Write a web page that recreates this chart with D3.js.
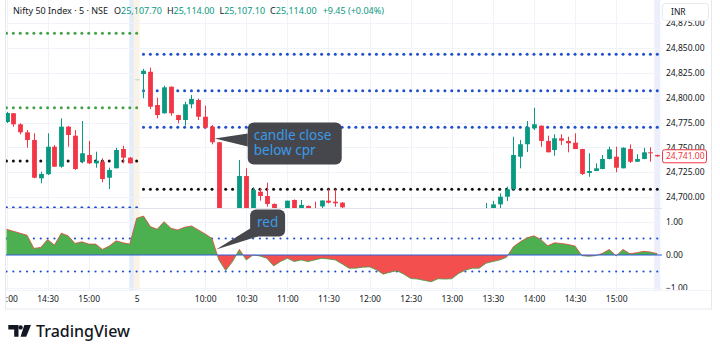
<!DOCTYPE html>
<html>
<head>
<meta charset="utf-8">
<script src="https://cdn.jsdelivr.net/npm/d3@7"></script>
<style>
  body { margin: 0; background: #fff; }
  svg { display: block; font-family: "Noto Sans", sans-serif; }
</style>
</head>
<body>
<svg id="chart" width="720" height="353"></svg>
<script>
// ---- data (5 min bars, 14:00 prev day .. 15:30, pre-open bar, 9:15 .. 15:30) ----
const opens = [
  24775.5, 24784.3, 24773.2, 24765.1, 24757.4, 24718.8, 24722.9, 24750.6, 24730.5, 24770.8,
  24761.7, 24735.5, 24742.3, 24733.9, 24735.5, 24719.4, 24728.9, 24748.3, 24739.6, 24818.5,
  24823.8, 24826.1, 24792.6, 24784.3, 24811.0, 24782.5, 24777.5, 24793.3, 24797.6, 24780.8,
  24770.8, 24755.1, 24668.0, 24662.0, 24676.0, 24721.1, 24682.0, 24705.3, 24701.0, 24693.0,
  24684.0, 24679.0, 24697.0, 24686.0, 24691.0, 24688.0, 24690.5, 24696.3, 24695.3, 24694.3,
  24688.0, 24681.0, 24676.0, 24682.0, 24677.0, 24670.0, 24664.0, 24669.0, 24666.0, 24658.0,
  24653.0, 24657.0, 24651.0, 24654.0, 24660.0, 24658.0, 24665.0, 24671.0, 24675.0, 24678.0,
  24676.0, 24688.9, 24692.6, 24700.3, 24707.8, 24740.6, 24753.1, 24769.2, 24771.8, 24756.4,
  24747.3, 24759.1, 24756.4, 24754.7, 24748.3, 24724.2, 24726.2, 24728.2, 24738.3, 24740.6,
  24728.9, 24748.3, 24735.5, 24738.3, 24745.0, 24742.3
];
const highs = [
  24785.6, 24784.6, 24774.2, 24767.4, 24764.1, 24725.5, 24764.1, 24752.3, 24779.2, 24771.5,
  24767.4, 24776.5, 24756.4, 24745.6, 24739.0, 24729.5, 24749.6, 24751.6, 24740.3, 24818.6,
  24829.0, 24830.2, 24800.0, 24812.0, 24811.2, 24782.8, 24795.9, 24802.7, 24799.0, 24791.9,
  24772.5, 24755.5, 24682.0, 24684.0, 24737.2, 24728.9, 24709.8, 24708.8, 24714.4, 24693.5,
  24687.0, 24696.3, 24697.5, 24697.0, 24691.5, 24695.3, 24696.5, 24707.8, 24707.8, 24694.8,
  24688.5, 24686.0, 24684.0, 24686.0, 24680.0, 24674.0, 24672.0, 24673.0, 24668.0, 24663.0,
  24660.0, 24661.0, 24656.0, 24662.0, 24664.0, 24667.0, 24673.0, 24677.0, 24680.0, 24682.0,
  24694.0, 24696.0, 24703.7, 24710.4, 24760.7, 24757.4, 24776.5, 24789.9, 24772.0, 24761.7,
  24763.1, 24763.1, 24760.7, 24764.1, 24748.5, 24744.0, 24733.9, 24742.3, 24750.6, 24750.6,
  24750.0, 24753.0, 24743.0, 24749.6, 24750.0, 24742.5
];
const lows = [
  24774.5, 24770.8, 24763.1, 24749.6, 24718.8, 24713.8, 24722.1, 24730.2, 24729.5, 24750.6,
  24727.2, 24733.9, 24733.2, 24729.5, 24714.8, 24708.0, 24728.9, 24733.9, 24733.7, 24817.4,
  24799.4, 24788.6, 24779.2, 24784.0, 24781.8, 24774.2, 24771.8, 24789.3, 24777.5, 24768.5,
  24753.0, 24660.0, 24655.0, 24658.0, 24670.0, 24675.0, 24678.0, 24696.3, 24690.2, 24680.0,
  24674.0, 24676.0, 24682.0, 24683.0, 24683.0, 24683.0, 24686.0, 24693.5, 24690.2, 24686.0,
  24678.0, 24674.0, 24672.0, 24675.0, 24668.0, 24661.0, 24662.0, 24664.0, 24655.0, 24650.0,
  24649.0, 24648.0, 24645.0, 24652.0, 24655.0, 24656.0, 24663.0, 24668.0, 24671.0, 24673.0,
  24672.0, 24684.0, 24688.9, 24696.0, 24707.5, 24728.9, 24745.3, 24767.4, 24750.6, 24745.0,
  24741.6, 24752.3, 24745.0, 24748.3, 24722.1, 24720.4, 24726.0, 24728.0, 24738.0, 24724.9,
  24728.9, 24734.2, 24735.3, 24738.0, 24735.5, 24740.5
];
const closes = [
  24784.6, 24773.2, 24765.1, 24757.4, 24719.4, 24723.2, 24750.6, 24730.5, 24770.8, 24762.4,
  24728.2, 24744.0, 24733.9, 24736.5, 24718.1, 24727.2, 24747.3, 24739.6, 24733.9, 24817.5,
  24827.1, 24790.9, 24782.5, 24810.4, 24784.3, 24777.5, 24793.3, 24798.7, 24780.8, 24769.8,
  24755.1, 24668.0, 24662.0, 24676.0, 24721.1, 24682.0, 24707.0, 24701.0, 24693.0, 24684.0,
  24679.0, 24696.3, 24686.0, 24692.0, 24686.0, 24686.5, 24696.5, 24694.3, 24693.7, 24689.6,
  24681.0, 24676.0, 24682.0, 24677.0, 24670.0, 24664.0, 24669.0, 24666.0, 24658.0, 24653.0,
  24657.0, 24651.0, 24654.0, 24660.0, 24658.0, 24665.0, 24671.0, 24675.0, 24678.0, 24676.0,
  24684.0, 24692.6, 24700.3, 24707.8, 24742.3, 24753.1, 24770.2, 24773.2, 24756.4, 24745.0,
  24759.1, 24756.7, 24754.1, 24748.3, 24723.2, 24726.2, 24728.9, 24738.3, 24748.0, 24729.5,
  24749.6, 24735.5, 24738.3, 24745.0, 24744.0, 24741.0
];
const preMarketBars = [19];

// oscillator in the lower pane
const oscValues = [
  0.78, 0.72, 0.66, 0.60, 0.20, 0.23, 0.47, 0.30, 0.66, 0.58,
  0.35, 0.40, 0.33, 0.33, 0.17, 0.27, 0.43, 0.37, 0.33, 1.11,
  1.18, 0.86, 0.78, 1.01, 0.81, 0.76, 0.84, 0.88, 0.76, 0.64,
  0.50, -0.15, -0.47, -0.20, 0.17, -0.15, 0.00, -0.03, -0.10, -0.33,
  -0.20, -0.10, -0.20, -0.15, -0.20, -0.15, -0.10, -0.12, -0.15, -0.27,
  -0.40, -0.40, -0.37, -0.36, -0.45, -0.58, -0.52, -0.48, -0.58, -0.71,
  -0.73, -0.77, -0.81, -0.72, -0.73, -0.72, -0.56, -0.46, -0.40, -0.40,
  -0.25, -0.20, -0.15, -0.07, 0.25, 0.40, 0.52, 0.58, 0.47, 0.28,
  0.37, 0.35, 0.32, 0.27, -0.02, -0.04, -0.02, 0.05, 0.17, -0.03,
  0.17, 0.04, 0.07, 0.11, 0.09, 0.04
];
const oscBands = [0.5, -0.5];

// pivot / cpr levels per session
const prevDayBars = [0, 19];
const todayBars = [20, 95];
const prevDayGreen = [24864.8, 24789.9];
const prevDayBlack = [24736.3];
const prevDayBlue = [24689.2];
const todayBlue = [24843.7, 24807.0, 24770.2];
const todayBlack = [24707.7];

// axes
const priceTicks = [24700, 24725, 24750, 24775, 24800, 24825, 24850, 24875];
const oscTicks = [1, 0, -1];
const timeTickBars = [0, 6, 12, 19, 29, 35, 41, 47, 53, 59, 65, 71, 77, 83, 89];
const timeTickLabels = ["14:00", "14:30", "15:00", "5", "10:00", "10:30", "11:00", "11:30",
  "12:00", "12:30", "13:00", "13:30", "14:00", "14:30", "15:00"];

// ---- layout ----
const paneLeft = 6, paneRight = 662;
const priceTop = 0, priceBottom = 208;
const oscTop = 209, oscBottom = 290;
const green = "#089981", red = "#f23645";
const textCol = "#131722";

const svg = d3.select("#chart");
const defs = svg.append("defs");

const x = d3.scaleLinear().domain([0, 95]).range([6.5, 657.25]);
const step = x(1) - x(0);
const y = d3.scaleLinear().domain([24700, 24850]).range([197, 48]);
const yOsc = d3.scaleLinear().domain([-1, 1]).range([288, 222]);

defs.append("clipPath").attr("id", "clipPrice").append("rect")
  .attr("x", paneLeft).attr("y", priceTop).attr("width", paneRight - paneLeft).attr("height", priceBottom - priceTop);
defs.append("clipPath").attr("id", "clipOsc").append("rect")
  .attr("x", paneLeft).attr("y", oscTop).attr("width", paneRight - paneLeft).attr("height", oscBottom - oscTop);
defs.append("clipPath").attr("id", "clipPos").append("rect")
  .attr("x", paneLeft).attr("y", oscTop).attr("width", paneRight - paneLeft).attr("height", yOsc(0) - oscTop);
defs.append("clipPath").attr("id", "clipNeg").append("rect")
  .attr("x", paneLeft).attr("y", yOsc(0)).attr("width", paneRight - paneLeft).attr("height", oscBottom - yOsc(0));
defs.append("clipPath").attr("id", "clipTime").append("rect")
  .attr("x", paneLeft).attr("y", oscBottom).attr("width", paneRight - paneLeft).attr("height", 20);
defs.append("clipPath").attr("id", "clipOscAxis").append("rect")
  .attr("x", paneRight).attr("y", oscTop).attr("width", 58).attr("height", oscBottom - oscTop);

// session highlight bands
const bands = [
  {bar: 18.3, w: 5, color: "#e3ecfb"},
  {bar: 19, w: 6, color: "#fdf3e3"},
  {bar: 95, w: 6, color: "#eceefb"}
];
svg.append("g").selectAll("rect").data(bands).join("rect")
  .attr("x", d => x(d.bar) - d.w / 2).attr("y", 0)
  .attr("width", d => d.w).attr("height", oscBottom)
  .attr("fill", d => d.color);

// grid
const grid = svg.append("g").attr("stroke", "#f0f3fa").attr("stroke-width", 1);
grid.append("g").attr("clip-path", "url(#clipPrice)").selectAll("line").data(priceTicks).join("line")
  .attr("x1", paneLeft).attr("x2", paneRight)
  .attr("y1", d => Math.round(y(d)) + 0.5).attr("y2", d => Math.round(y(d)) + 0.5);
grid.append("g").selectAll("line").data(oscTicks.filter(d => d !== 0)).join("line")
  .attr("x1", paneLeft).attr("x2", paneRight)
  .attr("y1", d => Math.round(yOsc(d)) + 0.5).attr("y2", d => Math.round(yOsc(d)) + 0.5);
grid.append("g").selectAll("line").data(timeTickBars).join("line")
  .attr("x1", d => Math.round(x(d)) + 0.5).attr("x2", d => Math.round(x(d)) + 0.5)
  .attr("y1", 0).attr("y2", oscBottom);

// pane separators and frame
svg.append("line").attr("x1", paneLeft).attr("x2", 711).attr("y1", priceBottom + 0.5).attr("y2", priceBottom + 0.5)
  .attr("stroke", "#e0e3eb");
svg.append("line").attr("x1", paneLeft).attr("x2", 711).attr("y1", oscBottom + 0.5).attr("y2", oscBottom + 0.5)
  .attr("stroke", "#f0f3fa");
svg.append("rect").attr("x", 5.5).attr("y", -2).attr("width", 706).attr("height", 311)
  .attr("fill", "none").attr("stroke", "#e6e8ee");

// level dots (plotted once per bar)
function levelDots(g, levels, range, color, r) {
  const idx = d3.range(range[0], range[1] + 1);
  levels.forEach(lv => {
    g.append("g").selectAll("circle").data(idx).join("circle")
      .attr("cx", d => x(d)).attr("cy", y(lv)).attr("r", r).attr("fill", color);
  });
}
const priceG = svg.append("g").attr("clip-path", "url(#clipPrice)");
levelDots(priceG, prevDayGreen, prevDayBars, "#43a047", 1.5);
levelDots(priceG, prevDayBlack, prevDayBars, "#111", 1.5);
levelDots(priceG, prevDayBlue, prevDayBars, "#1f4fcf", 1.5);
levelDots(priceG, todayBlue, todayBars, "#1f4fcf", 1.5);
levelDots(priceG, todayBlack, todayBars, "#111", 1.5);

// candles
const bars = d3.range(opens.length);
const candleCol = i => preMarketBars.includes(i) ? "#bcd9cf" : (closes[i] >= opens[i] ? green : red);
const bodyW = step * 0.7;
priceG.append("g").selectAll("line").data(bars).join("line")
  .attr("x1", i => Math.round(x(i)) + 0.5).attr("x2", i => Math.round(x(i)) + 0.5)
  .attr("y1", i => y(highs[i])).attr("y2", i => y(lows[i]))
  .attr("stroke", candleCol).attr("stroke-width", 1);
priceG.append("g").selectAll("rect").data(bars).join("rect")
  .attr("x", i => Math.round(x(i)) + 0.5 - bodyW / 2)
  .attr("y", i => y(Math.max(opens[i], closes[i])))
  .attr("width", bodyW)
  .attr("height", i => Math.max(1, Math.abs(y(opens[i]) - y(closes[i]))))
  .attr("fill", candleCol);

// oscillator pane
const oscG = svg.append("g").attr("clip-path", "url(#clipOsc)");
oscBands.forEach(b => {
  oscG.append("g").selectAll("circle").data(bars).join("circle")
    .attr("cx", d => x(d)).attr("cy", yOsc(b)).attr("r", 1.1).attr("fill", "#1f4fcf");
});
const area = d3.area().x((d, i) => x(i)).y0(yOsc(0)).y1(d => yOsc(d));
const line = d3.line().x((d, i) => x(i)).y(d => yOsc(d));
const posG = oscG.append("g").attr("clip-path", "url(#clipPos)");
posG.append("path").datum(oscValues).attr("d", area).attr("fill", "#4caf50");
posG.append("path").datum(oscValues).attr("d", line).attr("fill", "none").attr("stroke", "#e0463c").attr("stroke-width", 0.8);
const negG = oscG.append("g").attr("clip-path", "url(#clipNeg)");
negG.append("path").datum(oscValues).attr("d", area).attr("fill", "#f44f4f");
negG.append("path").datum(oscValues).attr("d", line).attr("fill", "none").attr("stroke", "#43a047").attr("stroke-width", 0.8);
oscG.append("line").attr("x1", paneLeft).attr("x2", paneRight)
  .attr("y1", yOsc(0)).attr("y2", yOsc(0)).attr("stroke", "#2f5bd9").attr("stroke-width", 1);

// right axis background
svg.append("rect").attr("x", paneRight).attr("y", 0).attr("width", 49).attr("height", oscBottom).attr("fill", "#fff");

// price axis
const priceAxis = svg.append("g").attr("transform", `translate(${paneRight + 4},0)`)
  .call(d3.axisRight(y).tickValues(priceTicks).tickFormat(d3.format(",.2f")).tickSize(0).tickPadding(0));
priceAxis.select(".domain").remove();
priceAxis.selectAll("text").attr("fill", textCol).attr("font-size", "8.5px").attr("font-family", "Noto Sans, sans-serif");

const oscAxis = svg.append("g").attr("clip-path", "url(#clipOscAxis)").append("g")
  .attr("transform", `translate(${paneRight + 4},0)`)
  .call(d3.axisRight(yOsc).tickValues(oscTicks).tickFormat(d3.format(".2f")).tickSize(0).tickPadding(0));
oscAxis.select(".domain").remove();
oscAxis.selectAll("text").attr("fill", textCol).attr("font-size", "8.5px").attr("font-family", "Noto Sans, sans-serif");

// INR box
svg.append("rect").attr("x", 662).attr("y", 0).attr("width", 49).attr("height", 21).attr("fill", "#fff");
svg.append("rect").attr("x", 662.5).attr("y", 3.5).attr("width", 46).attr("height", 17).attr("rx", 3)
  .attr("fill", "#fff").attr("stroke", "#e6e8ee");
svg.append("text").attr("x", 671).attr("y", 15).attr("font-size", "8.5px").attr("fill", textCol).text("INR");

// last price label
const lastIdx = closes.length - 1;
const lastY = y(closes[lastIdx]);
svg.append("rect").attr("x", paneRight + 0.5).attr("y", lastY - 6.5).attr("width", 44).attr("height", 13).attr("rx", 2)
  .attr("fill", "#fff").attr("stroke", red);
svg.append("text").attr("x", paneRight + 4).attr("y", lastY + 3).attr("font-size", "8.5px").attr("fill", red)
  .text(d3.format(",.2f")(closes[lastIdx]));

// time axis
const timeAxis = svg.append("g").attr("clip-path", "url(#clipTime)").append("g")
  .attr("transform", `translate(0,${oscBottom})`)
  .call(d3.axisBottom(x).tickValues(timeTickBars).tickFormat((d, i) => timeTickLabels[i]).tickSize(0).tickPadding(6));
timeAxis.select(".domain").remove();
timeAxis.selectAll("text").attr("fill", textCol).attr("font-size", "8.5px").attr("font-family", "Noto Sans, sans-serif");

// annotations (anchored to a bar and a value)
const notes = [
  {lines: ["candle close", "below cpr"], bar: 30.4, yv: 24759, pane: "price", dx: 33, dy: -16, w: 94, h: 42,
   base: [[33, -5], [33, 8]]},
  {lines: ["red"], bar: 30.6, yv: 0.17, pane: "osc", dx: 34, dy: -40, w: 35, h: 27,
   base: [[34, -21], [42, -13]]}
];
notes.forEach(n => {
  const tx = x(n.bar), ty = n.pane === "price" ? y(n.yv) : yOsc(n.yv);
  const g = svg.append("g");
  g.append("path")
    .attr("d", `M${tx},${ty}L${tx + n.base[0][0]},${ty + n.base[0][1]}L${tx + n.base[1][0]},${ty + n.base[1][1]}Z`)
    .attr("fill", "#45474d");
  g.append("rect").attr("x", tx + n.dx).attr("y", ty + n.dy).attr("width", n.w).attr("height", n.h).attr("rx", 6)
    .attr("fill", "#45474d");
  const t = g.append("text").attr("font-size", "13.5px").attr("fill", "#3b9ae8")
    .attr("text-anchor", n.lines.length > 1 ? "start" : "middle");
  n.lines.forEach((s, k) => {
    t.append("tspan")
      .attr("x", n.lines.length > 1 ? tx + n.dx + 6 : tx + n.dx + n.w / 2)
      .attr("y", ty + n.dy + 18 + k * 15)
      .text(s);
  });
});

// header legend
const hdr = svg.append("text").attr("x", 13).attr("y", 14).attr("font-size", "9px").attr("fill", textCol);
hdr.append("tspan").text("Nifty 50 Index · 5 · NSE");
[["O", "25,107.70"], ["H", "25,114.00"], ["L", "25,107.10"], ["C", "25,114.00"]].forEach(([k, v], i) => {
  hdr.append("tspan").attr("dx", i === 0 ? 6 : 5).text(k);
  hdr.append("tspan").attr("fill", green).text(v);
});
hdr.append("tspan").attr("dx", 6).attr("fill", green).text("+9.45 (+0.04%)");

// TradingView logo
const logo = svg.append("g").attr("fill", textCol);
logo.append("path").attr("d", "M8.3,325H18.5V336.7H14.2V329.4H8.3Z");
logo.append("circle").attr("cx", 20.6).attr("cy", 327.4).attr("r", 2.2);
logo.append("path").attr("d", "M24.3,325H31L26.2,336.7H20.6Z");
logo.append("text").attr("x", 36).attr("y", 336.5).attr("font-size", "16px").attr("font-weight", 500)
  .attr("fill", textCol).text("TradingView");
</script>
</body>
</html>
